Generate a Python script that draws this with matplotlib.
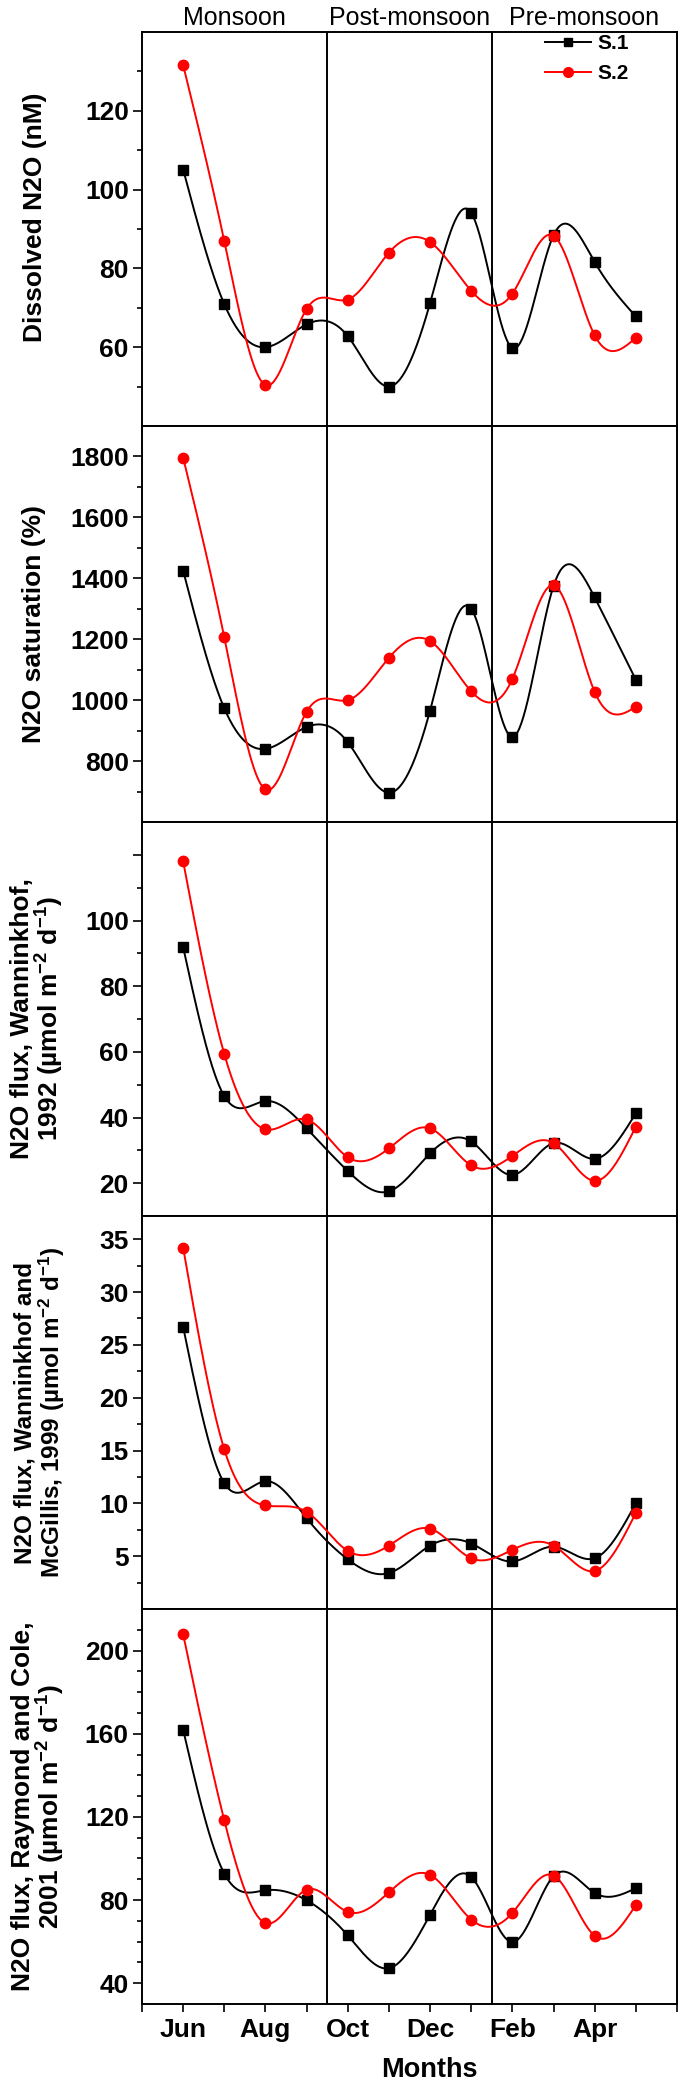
import numpy as np
import matplotlib
matplotlib.use('Agg')
import matplotlib.pyplot as plt
import matplotlib.transforms as mtransforms

plt.rcParams['font.family'] = ['Liberation Sans', 'DejaVu Sans']
plt.rcParams['mathtext.fontset'] = 'custom'
plt.rcParams['mathtext.rm'] = 'Liberation Sans:bold'
plt.rcParams['mathtext.it'] = 'Liberation Sans:bold'
plt.rcParams['mathtext.bf'] = 'Liberation Sans:bold'

# months Jun..May
months = ['Jun', 'Jul', 'Aug', 'Sep', 'Oct', 'Nov', 'Dec', 'Jan', 'Feb', 'Mar', 'Apr', 'May']
tick_labels = ['', 'Jun', '', 'Aug', '', 'Oct', '', 'Dec', '', 'Feb', '', 'Apr', '', '']
seasons = ['Monsoon', 'Post-monsoon', 'Pre-monsoon']
season_centers = [1.25, 5.5, 9.75]
season_breaks = [3.5, 7.5]

dissolved_s1 = [105.1, 70.9, 60.0, 65.8, 62.8, 50.0, 71.2, 94.1, 59.8, 88.4, 81.6, 67.8]
dissolved_s2 = [131.6, 86.9, 50.4, 69.7, 72.1, 84.0, 86.7, 74.3, 73.6, 88.3, 63.0, 62.4]

saturation_s1 = [1425, 973, 840, 912, 862, 696, 966, 1300, 879, 1375, 1337, 1067]
saturation_s2 = [1796, 1206, 707, 962, 1000, 1139, 1194, 1029, 1070, 1377, 1027, 978]

flux_w92_s1 = [91.9, 46.5, 45.0, 36.7, 23.7, 17.5, 29.1, 32.7, 22.5, 32.2, 27.4, 41.3]
flux_w92_s2 = [118.0, 59.3, 36.4, 39.4, 27.9, 30.6, 36.7, 25.4, 28.3, 32.2, 20.7, 37.2]

flux_wm99_s1 = [26.7, 11.9, 12.1, 8.6, 4.7, 3.4, 6.0, 6.2, 4.5, 5.9, 4.8, 10.0]
flux_wm99_s2 = [34.2, 15.1, 9.8, 9.2, 5.5, 6.0, 7.6, 4.8, 5.6, 6.0, 3.6, 9.1]

flux_rc01_s1 = [161.9, 92.7, 84.7, 79.9, 63.0, 47.2, 73.0, 91.1, 59.8, 91.5, 83.4, 85.7]
flux_rc01_s2 = [207.9, 118.3, 68.9, 85.0, 74.3, 83.7, 92.1, 70.6, 73.8, 91.8, 62.8, 77.6]

panels = [
    dict(s1=dissolved_s1, s2=dissolved_s2, ylabel='Dissolved N2O (nM)', fs=19,
         ylim=(40, 140), major=[60, 80, 100, 120], minor=[50, 70, 90, 110, 130], hide=[]),
    dict(s1=saturation_s1, s2=saturation_s2, ylabel='N2O saturation (%)', fs=19,
         ylim=(600, 1900), major=[800, 1000, 1200, 1400, 1600, 1800],
         minor=[700, 900, 1100, 1300, 1500, 1700], hide=[]),
    dict(s1=flux_w92_s1, s2=flux_w92_s2,
         ylabel='N2O flux, Wanninkhof,\n1992 (µmol m$^{-2}$ d$^{-1}$)', fs=19,
         ylim=(10, 130), major=[20, 40, 60, 80, 100, 120], minor=[30, 50, 70, 90, 110], hide=[120]),
    dict(s1=flux_wm99_s1, s2=flux_wm99_s2,
         ylabel='N2O flux, Wanninkhof and\nMcGillis, 1999 (µmol m$^{-2}$ d$^{-1}$)', fs=17.5,
         ylim=(0, 37.2), major=[5, 10, 15, 20, 25, 30, 35],
         minor=[2.5, 7.5, 12.5, 17.5, 22.5, 27.5, 32.5], hide=[]),
    dict(s1=flux_rc01_s1, s2=flux_rc01_s2,
         ylabel='N2O flux, Raymond and Cole,\n2001 (µmol m$^{-2}$ d$^{-1}$)', fs=19,
         ylim=(30, 220), major=[40, 80, 120, 160, 200],
         minor=[50, 60, 70, 90, 100, 110, 130, 140, 150, 170, 180, 190, 210], hide=[]),
]


def spline_curve(y, n=40):
    # natural cubic spline through the points (like Origin's spline connect)
    y = np.asarray(y, dtype=float)
    x = np.arange(len(y), dtype=float)
    m = len(y)
    A = np.zeros((m, m))
    b = np.zeros(m)
    A[0, 0] = A[-1, -1] = 1
    for i in range(1, m - 1):
        A[i, i - 1], A[i, i], A[i, i + 1] = 1, 4, 1
        b[i] = 6 * (y[i + 1] - 2 * y[i] + y[i - 1])
    M = np.linalg.solve(A, b)
    xs, ys = [], []
    for i in range(m - 1):
        t = np.linspace(0, 1, n, endpoint=(i == m - 2))
        seg = ((1 - t) * y[i] + t * y[i + 1]
               + ((1 - t) ** 3 - (1 - t)) * M[i] / 6 + (t ** 3 - t) * M[i + 1] / 6)
        xs.append(x[i] + t)
        ys.append(seg)
    return np.concatenate(xs), np.concatenate(ys)


fig = plt.figure(figsize=(6.85, 20.87), dpi=100)
W, H = 685.0, 2087.0
left, right = 142.0, 677.0
bounds = [32, 426, 822, 1216, 1609, 2004]
xpos = np.arange(len(months))

axes = []
for k, p in enumerate(panels):
    top, bot = bounds[k], bounds[k + 1]
    ax = fig.add_axes([left / W, 1 - bot / H, (right - left) / W, (bot - top) / H])
    axes.append(ax)

    cx, cy = spline_curve(p['s1'])
    ax.plot(cx, cy, color='black', lw=1.4, zorder=3)
    ax.plot(xpos, p['s1'], ls='none', marker='s', ms=7, color='black', zorder=4)
    cx, cy = spline_curve(p['s2'])
    ax.plot(cx, cy, color='red', lw=1.4, zorder=5)
    ax.plot(xpos, p['s2'], ls='none', marker='o', ms=7.5, color='red', zorder=6)

    for xb in season_breaks:
        ax.axvline(xb, color='black', lw=1.4, zorder=2)

    ax.set_xlim(-1, 12)
    ax.set_ylim(*p['ylim'])
    ax.set_xticks(np.arange(-1, 13))
    if k == len(panels) - 1:
        ax.set_xticklabels(tick_labels, fontsize=19, fontweight='bold')
    else:
        ax.set_xticklabels([])
    ax.set_yticks(p['major'])
    ax.set_yticklabels(['' if v in p['hide'] else ('%g' % v) for v in p['major']],
                       fontsize=19, fontweight='bold')
    ax.set_yticks(p['minor'], minor=True)
    ax.tick_params(axis='x', direction='out', length=6, width=1.2, pad=4)
    ax.tick_params(axis='y', which='major', direction='out', length=6.5, width=1.2, pad=3)
    ax.tick_params(axis='y', which='minor', direction='out', length=3.5, width=1.2)
    for s in ax.spines.values():
        s.set_linewidth(1.4)

    xc = {0: 35, 1: 34, 2: 38, 3: 40, 4: 39}[k]
    yc = 0.53 if k == 0 else 0.5
    ax.text((xc - left) / (right - left), yc, p['ylabel'], transform=ax.transAxes,
            rotation=90, ha='center', va='center', fontsize=p['fs'],
            fontweight='bold', linespacing=1.0, multialignment='center')

# season names above the first panel
trans = mtransforms.blended_transform_factory(axes[0].transData, axes[0].transAxes)
for name, xc in zip(seasons, season_centers):
    axes[0].text(xc, 1.036, name, transform=trans, ha='center', va='center', fontsize=18)

# legend
h1, = axes[0].plot([], [], color='black', lw=1.4, marker='s', ms=5.5)
h2, = axes[0].plot([], [], color='red', lw=1.4, marker='o', ms=7)
leg = axes[0].legend([h1, h2], ['S.1', 'S.2'], loc='upper left',
                     bbox_to_anchor=((545 - left) / (right - left), 0.995),
                     frameon=False, borderpad=0, borderaxespad=0, handlelength=2.2,
                     handletextpad=0.3, labelspacing=0.55,
                     prop={'size': 15, 'weight': 'bold'})

axes[-1].set_xlabel('Months', fontsize=19.5, fontweight='bold')
axes[-1].xaxis.set_label_coords((429 - left) / (right - left), -0.135)

fig.savefig('out.png', dpi=100)
